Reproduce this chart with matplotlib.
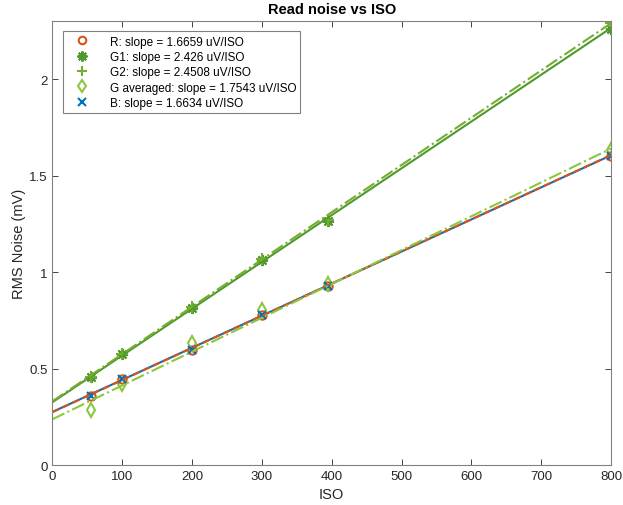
import numpy as np
import matplotlib
matplotlib.use('Agg')
import matplotlib.pyplot as plt

plt.rcParams['font.family'] = ['Liberation Sans', 'DejaVu Sans']

# measured points (ISO, RMS noise in mV)
iso = [55, 100, 200, 300, 395, 800]
r_noise = [0.36, 0.445, 0.597, 0.777, 0.927, 1.602]
g1_noise = [0.455, 0.576, 0.815, 1.062, 1.266, 2.262]
g2_noise = [0.456, 0.578, 0.818, 1.066, 1.272, 2.29]
gavg_noise = [0.286, 0.42, 0.632, 0.802, 0.94, 1.635]
b_noise = [0.36, 0.445, 0.597, 0.777, 0.927, 1.602]

# fit lines: slope in uV/ISO and intercept in mV
names = ['R', 'G1', 'G2', 'G averaged', 'B']
slopes = [1.6659, 2.426, 2.4508, 1.7543, 1.6634]
intercepts = [0.274, 0.325, 0.33, 0.237, 0.275]
fit_range = [0, 800]

c_r = '#D95319'
c_g1 = '#4E9A2C'
c_g2 = '#77AC30'
c_gavg = '#8DC63F'
c_b = '#0072BD'

fig = plt.figure(figsize=(6.23, 5.06), dpi=100)
ax = fig.add_axes([0.084, 0.079, 0.897, 0.877])

ms = 6
ax.plot(iso, r_noise, 'o', mfc='none', mec=c_r, mew=1.5, ms=ms,
        label='R: slope = %s uV/ISO' % slopes[0])
ax.plot(iso, g1_noise, linestyle='none', marker=(8, 2, 0), mec=c_g1, mew=1.5, ms=8,
        label='G1: slope = %s uV/ISO' % slopes[1])
ax.plot(iso, g2_noise, '+', mec=c_g2, mew=1.5, ms=8,
        label='G2: slope = %s uV/ISO' % slopes[2])
ax.plot(iso, gavg_noise, 'd', mfc='none', mec=c_gavg, mew=1.5, ms=7,
        label='G averaged: slope = %s uV/ISO' % slopes[3])
ax.plot(iso, b_noise, 'x', mec=c_b, mew=1.5, ms=6,
        label='B: slope = %s uV/ISO' % slopes[4])

xf = np.array(fit_range, dtype=float)
styles = [(c_r, '--'), (c_g1, '-'), (c_g2, '-.'), (c_gavg, '-.'), (c_b, '-')]
# solid fits first so the dashed ones show on top
order = [4, 1, 0, 3, 2]
for i in order:
    col, ls = styles[i]
    ax.plot(xf, intercepts[i] + slopes[i] * 1e-3 * xf, color=col, ls=ls, lw=1.5)

ax.set_xlim(0, 800)
ax.set_ylim(0, 2.3)
ax.set_xticks(np.arange(0, 801, 100))
ax.set_yticks([0, 0.5, 1, 1.5, 2])
ax.set_yticklabels(['0', '0.5', '1', '1.5', '2'])
ax.tick_params(direction='in', length=4, width=0.6, labelsize=9.5, colors='#262626',
               top=True, right=True)
for s in ax.spines.values():
    s.set_color('#808080')
    s.set_linewidth(0.8)

ax.set_title('Read noise vs ISO', fontsize=10.5, fontweight='bold', pad=6)
ax.set_xlabel('ISO', fontsize=10.5, color='#262626')
ax.set_ylabel('RMS Noise (mV)', fontsize=10.5, color='#262626', labelpad=2)

leg = ax.legend(loc='upper left', bbox_to_anchor=(0.019, 0.977), borderaxespad=0,
                fontsize=8.5, fancybox=False, framealpha=1, handlelength=2.6,
                borderpad=0.35, labelspacing=0.28, handletextpad=1.0,
                markerscale=0.9)
leg.get_frame().set_edgecolor('#808080')
leg.get_frame().set_linewidth(0.8)

fig.savefig('out.png', dpi=100)
